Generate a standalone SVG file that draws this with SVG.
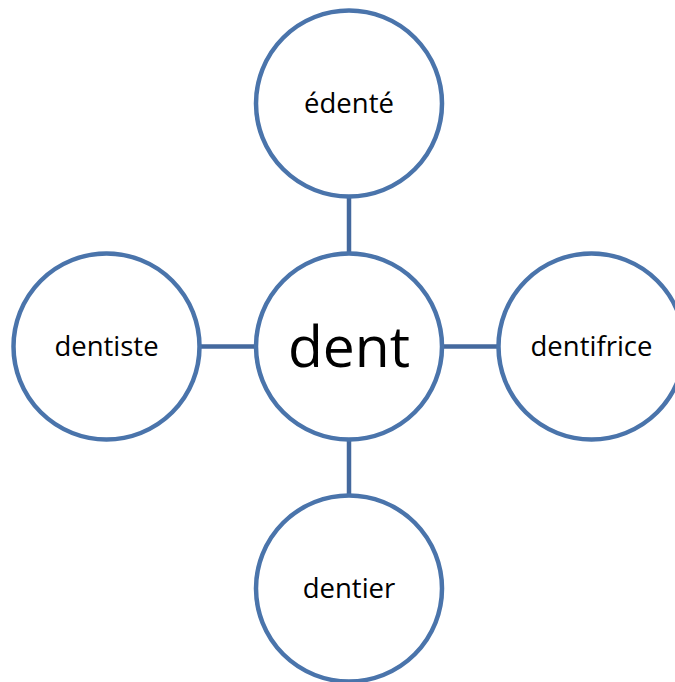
<svg xmlns="http://www.w3.org/2000/svg" width="675" height="682" viewBox="0 0 675 682">
<style>
.node{fill:#ffffff;stroke:#4A74AB;stroke-width:4.5}
.edge{stroke:#44699E;stroke-width:4.5;fill:none}
.lbl{font-family:"Open Sans","Liberation Sans",sans-serif;font-size:27.5px;fill:#000;text-anchor:middle}
.big{font-size:57px}
</style>
<rect width="675" height="682" fill="#ffffff"/>
<g id="connectors">
<line class="edge" x1="349" y1="197" x2="349" y2="253"/>
<line class="edge" x1="349" y1="440" x2="349" y2="495"/>
<line class="edge" x1="200" y1="346.5" x2="256" y2="346.5"/>
<line class="edge" x1="442" y1="346.5" x2="499" y2="346.5"/>
</g>
<g id="node-dent"><circle class="node" cx="349" cy="346.5" r="93"/><text class="lbl big" x="349" y="367">dent</text></g>
<g id="node-edente"><circle class="node" cx="349" cy="103.5" r="93"/><text class="lbl" x="349" y="113">édenté</text></g>
<g id="node-dentiste"><circle class="node" cx="106.5" cy="346.5" r="93"/><text class="lbl" x="106.5" y="356">dentiste</text></g>
<g id="node-dentifrice"><circle class="node" cx="591.5" cy="346.5" r="93"/><text class="lbl" x="591.5" y="356">dentifrice</text></g>
<g id="node-dentier"><circle class="node" cx="349" cy="588.5" r="93"/><text class="lbl" x="349" y="598">dentier</text></g>
</svg>
